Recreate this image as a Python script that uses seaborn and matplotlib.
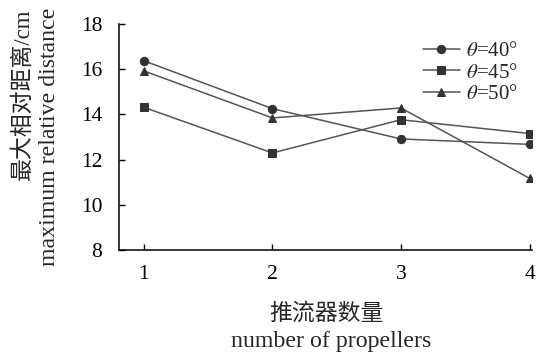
import numpy as np
import pandas as pd
import matplotlib.pyplot as plt
import seaborn as sns

# data
propellers = [1, 2, 3, 4]
theta40 = [16.37, 14.25, 12.91, 12.67]
theta45 = [14.31, 12.29, 13.76, 13.15]
theta50 = [15.92, 13.84, 14.28, 11.17]
labels = [r"$\theta$=40°", r"$\theta$=45°", r"$\theta$=50°"]

df = pd.DataFrame({
    "n": propellers * 3,
    "dist": theta40 + theta45 + theta50,
    "angle": [labels[0]] * 4 + [labels[1]] * 4 + [labels[2]] * 4,
})

sns.set_style("ticks")
plt.rcParams["font.family"] = ["Liberation Serif", "Noto Sans CJK SC"]
plt.rcParams["mathtext.fontset"] = "stix"

W, H = 538, 357
fig = plt.figure(figsize=(5.38, 3.57), dpi=100)
ax = fig.add_axes([0.221, 0.300, 0.768, 0.633])

sns.lineplot(data=df, x="n", y="dist", hue="angle", style="angle",
             markers=["o", "s", "^"], dashes=False,
             palette=["#555555"] * 3, linewidth=1.1, markersize=6,
             markeredgecolor="#333333", markerfacecolor="#333333", ax=ax)

ax.set_xlim(0.806, 4.02)
ax.set_ylim(8, 18)
ax.set_xticks(propellers)
ax.set_yticks([8, 10, 12, 14, 16, 18])
ax.tick_params(direction="in", length=4, width=1, labelsize=15.5, colors="black")
ax.tick_params(axis="y", pad=12)
ax.tick_params(axis="x", pad=11)
sns.despine(ax=ax)
for s in ["left", "bottom"]:
    ax.spines[s].set_linewidth(1.1)
    ax.spines[s].set_color("black")
ax.set_xlabel("")
ax.set_ylabel("")

# axis titles, Chinese line above English line
fig.text(326 / W, 1 - 320 / H, "推流器数量", fontsize=16.5, ha="center", va="baseline")
fig.text(331 / W, 1 - 347 / H, "number of propellers", fontsize=17.2, ha="center", va="baseline")
fig.text(23.5 / W, 1 - 8 / H, "最大相对距离/cm", fontsize=16.5, rotation=90, ha="center", va="top")
fig.text(50 / W, 1 - 8 / H, "maximum relative distance", fontsize=17.2, rotation=90, ha="center", va="top")

leg = ax.legend(frameon=False, fontsize=15, loc="upper right",
                bbox_to_anchor=(1.012, 1.005), handlelength=1.8, labelspacing=0.1,
                handletextpad=0.3)
for h in leg.legend_handles:
    h.set_markerfacecolor("#333333")
    h.set_markeredgecolor("#333333")

fig.savefig("out.png", dpi=100, facecolor="white")
